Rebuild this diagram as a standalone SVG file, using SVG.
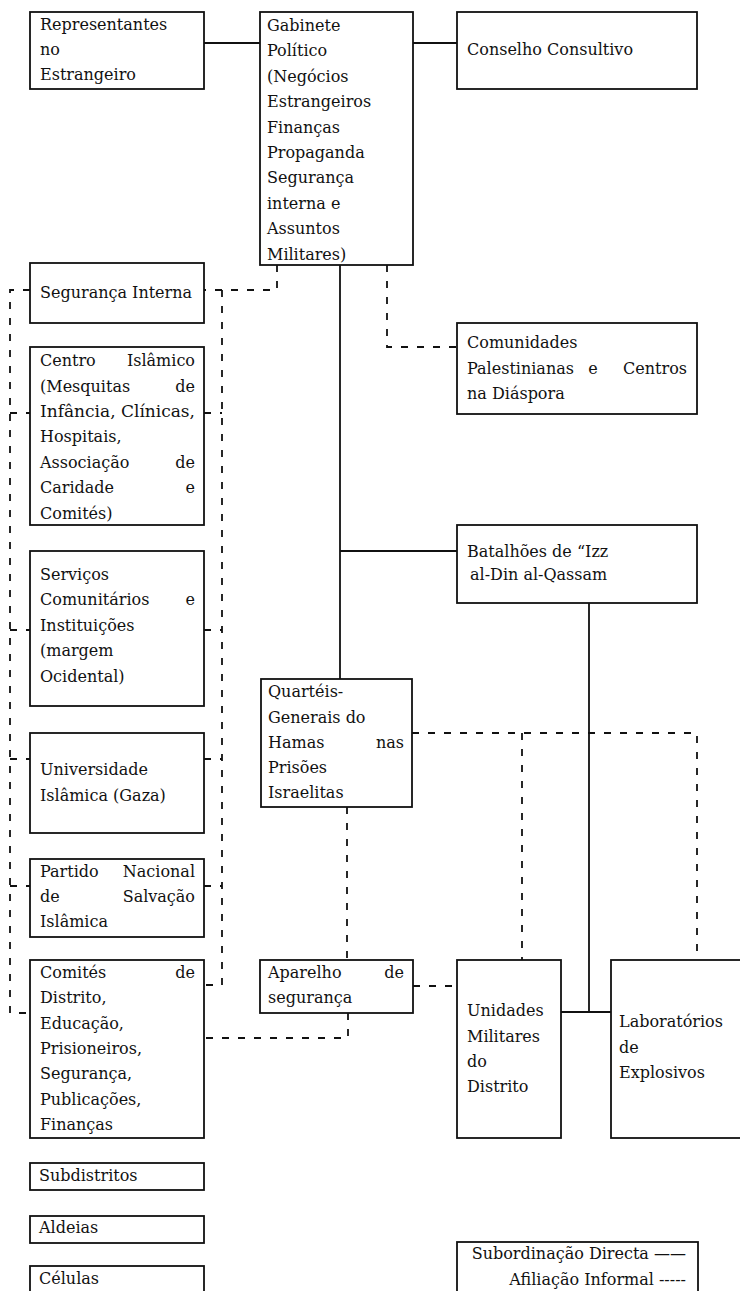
<svg xmlns="http://www.w3.org/2000/svg" width="740" height="1291" viewBox="0 0 740 1291">
<style>
rect.box{fill:#fff;stroke:#111;stroke-width:1.8}
text{font-family:"DejaVu Serif","Liberation Serif",serif;font-size:16px;fill:#111}
.e{text-anchor:end}
.m{text-anchor:middle}
.solid{fill:none;stroke:#111;stroke-width:1.8}
.dash{fill:none;stroke:#111;stroke-width:1.8;stroke-dasharray:7 9}
</style>
<rect width="740" height="1291" fill="#fff"/>
<g id="connectors">
<path class="solid" d="M204,43 H260 M413,43 H457 M340,265 V679 M340,551 H457 M589,603 V1012 M561,1012 H611"/>
<path class="dash" d="M277,265 V290 H204"/>
<path class="dash" d="M222,290 V985 H204"/>
<path class="dash" d="M204,413 H222 M204,630 H222 M204,759 H222 M204,886 H222"/>
<path class="dash" d="M30,290 H10 V1013 H30"/>
<path class="dash" d="M10,413 H30 M10,630 H30 M10,759 H30 M10,886 H30"/>
<path class="dash" d="M387,265 V347 H457"/>
<path class="dash" d="M412,733 H697 V960 M522,733 V960"/>
<path class="dash" d="M347,807 V960"/>
<path class="dash" d="M348,1013 V1038 H204"/>
<path class="dash" d="M413,986 H457"/>
</g>
<g id="representantes"><rect class="box" x="30" y="12" width="174" height="77"/>
<text x="40" y="30">Representantes</text><text x="40" y="55">no</text><text x="40" y="80">Estrangeiro</text></g>
<g id="gabinete"><rect class="box" x="260" y="12" width="153" height="253"/>
<text x="267" y="31">Gabinete</text><text x="267" y="56">Político</text><text x="267" y="82">(Negócios</text><text x="267" y="107">Estrangeiros</text><text x="267" y="133">Finanças</text><text x="267" y="158">Propaganda</text><text x="267" y="183">Segurança</text><text x="267" y="209">interna e</text><text x="267" y="234">Assuntos</text><text x="267" y="260">Militares)</text></g>
<g id="conselho"><rect class="box" x="457" y="12" width="240" height="77"/>
<text x="467" y="55">Conselho Consultivo</text></g>
<g id="seguranca-interna"><rect class="box" x="30" y="263" width="174" height="60"/>
<text x="40" y="298">Segurança Interna</text></g>
<g id="centro-islamico"><rect class="box" x="30" y="347" width="174" height="178"/>
<text x="40" y="366">Centro</text><text class="e" x="195" y="366">Islâmico</text>
<text x="40" y="392">(Mesquitas</text><text class="e" x="195" y="392">de</text>
<text x="40" y="417" textLength="155" lengthAdjust="spacingAndGlyphs">Infância, Clínicas,</text>
<text x="40" y="442">Hospitais,</text>
<text x="40" y="468">Associação</text><text class="e" x="195" y="468">de</text>
<text x="40" y="493">Caridade</text><text class="e" x="195" y="493">e</text>
<text x="40" y="519">Comités)</text></g>
<g id="servicos"><rect class="box" x="30" y="551" width="174" height="155"/>
<text x="40" y="580">Serviços</text>
<text x="40" y="605">Comunitários</text><text class="e" x="195" y="605">e</text>
<text x="40" y="631">Instituições</text><text x="40" y="656">(margem</text><text x="40" y="682">Ocidental)</text></g>
<g id="universidade"><rect class="box" x="30" y="733" width="174" height="100"/>
<text x="40" y="775">Universidade</text><text x="40" y="801">Islâmica (Gaza)</text></g>
<g id="partido"><rect class="box" x="30" y="859" width="174" height="78"/>
<text x="40" y="877">Partido</text><text class="e" x="195" y="877">Nacional</text>
<text x="40" y="902">de</text><text class="e" x="195" y="902">Salvação</text>
<text x="40" y="927">Islâmica</text></g>
<g id="comites"><rect class="box" x="30" y="960" width="174" height="178"/>
<text x="40" y="978">Comités</text><text class="e" x="195" y="978">de</text>
<text x="40" y="1003">Distrito,</text><text x="40" y="1029">Educação,</text><text x="40" y="1054">Prisioneiros,</text><text x="40" y="1079">Segurança,</text><text x="40" y="1105">Publicações,</text><text x="40" y="1130">Finanças</text></g>
<g id="subdistritos"><rect class="box" x="30" y="1163" width="174" height="27"/>
<text x="39" y="1181">Subdistritos</text></g>
<g id="aldeias"><rect class="box" x="30" y="1216" width="174" height="27"/>
<text x="39" y="1233">Aldeias</text></g>
<g id="celulas"><rect class="box" x="30" y="1266" width="174" height="40"/>
<text x="39" y="1284">Células</text></g>
<g id="comunidades"><rect class="box" x="457" y="323" width="240" height="91"/>
<text x="467" y="348">Comunidades</text>
<text x="467" y="374">Palestinianas</text><text class="m" x="593" y="374">e</text><text class="e" x="687" y="374">Centros</text>
<text x="467" y="399">na Diáspora</text></g>
<g id="batalhoes"><rect class="box" x="457" y="525" width="240" height="78"/>
<text x="467" y="557">Batalhões de “Izz</text><text x="470" y="580">al-Din al-Qassam</text></g>
<g id="quarteis"><rect class="box" x="261" y="679" width="151" height="128"/>
<text x="268" y="697">Quartéis-</text><text x="268" y="723">Generais do</text>
<text x="268" y="748">Hamas</text><text class="e" x="404" y="748">nas</text>
<text x="268" y="773">Prisões</text><text x="268" y="798">Israelitas</text></g>
<g id="aparelho"><rect class="box" x="260" y="960" width="153" height="53"/>
<text x="268" y="978">Aparelho</text><text class="e" x="404" y="978">de</text>
<text x="268" y="1003">segurança</text></g>
<g id="unidades"><rect class="box" x="457" y="960" width="104" height="178"/>
<text x="467" y="1016">Unidades</text><text x="467" y="1042">Militares</text><text x="467" y="1067">do</text><text x="467" y="1092">Distrito</text></g>
<g id="laboratorios"><rect class="box" x="611" y="960" width="140" height="178"/>
<text x="619" y="1027">Laboratórios</text><text x="619" y="1053">de</text><text x="619" y="1078">Explosivos</text></g>
<g id="legenda"><rect class="box" x="457" y="1242" width="241" height="60"/>
<text class="e" x="686" y="1259">Subordinação Directa ——</text>
<text class="e" x="686" y="1285">Afiliação Informal -----</text></g>
</svg>
